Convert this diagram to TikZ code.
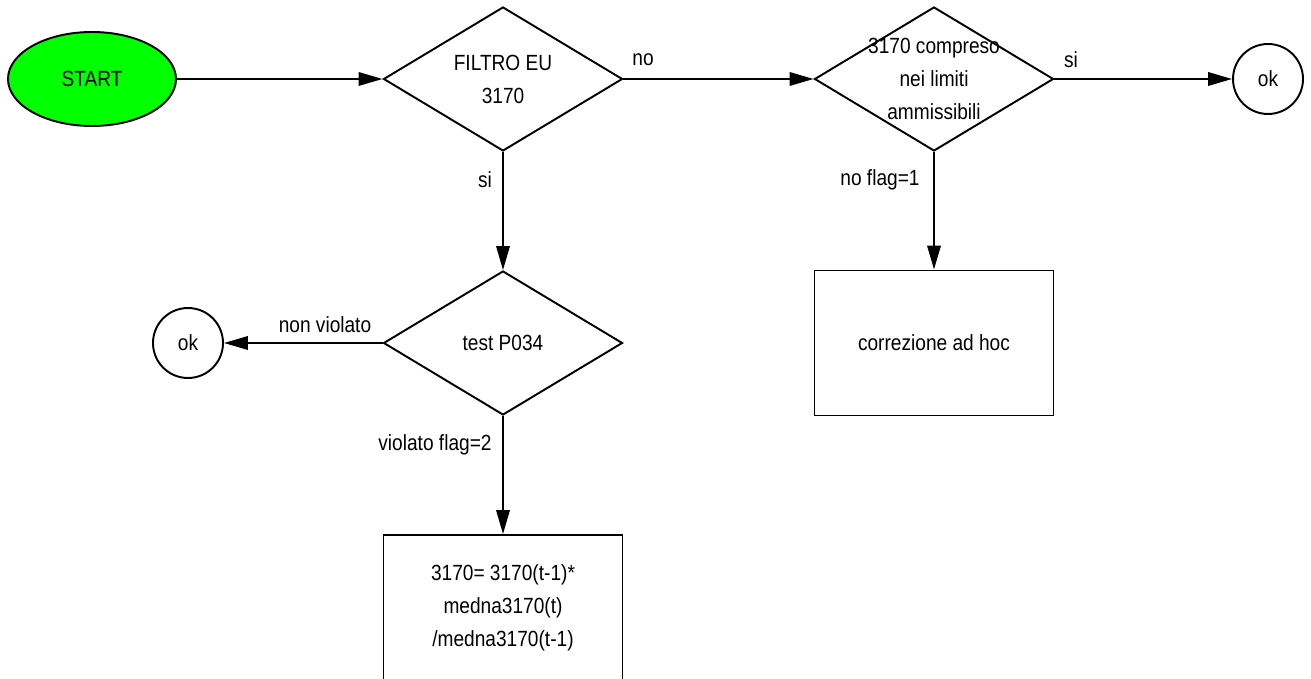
\documentclass[tikz,border=0pt]{standalone}
\usepackage{fontspec}
\setmainfont[FakeStretch=0.87]{Liberation Sans}
\usetikzlibrary{shapes.geometric,arrows.meta}
\definecolor{startgreen}{RGB}{0,255,0}
\begin{document}
\begin{tikzpicture}[
		line width=1.1pt,
		font=\fontsize{12.5}{18.8}\selectfont,
		freccia/.style={-{Triangle[length=0.48cm,width=0.27cm]}},
		decisione/.style={draw,diamond,inner sep=0pt,minimum width=4.78cm,minimum height=2.88cm},
		blocco/.style={draw,rectangle,align=center,minimum width=4.78cm,minimum height=2.9cm},
		fine/.style={draw,circle,inner sep=0pt,minimum size=1.4cm},
		etichetta/.style={inner sep=1pt,align=center}
	]
				\useasboundingbox (0,0) rectangle (26.22,-13.58);
				\clip (0,0) rectangle (26.22,-13.58);
				\coordinate (S) at (1.84,-1.58);
				\coordinate (D1) at (10.06,-1.58);
				\coordinate (D2) at (18.68,-1.58);
				\coordinate (K1) at (25.36,-1.58);
				\coordinate (D3) at (10.06,-6.86);
				\coordinate (K2) at (3.76,-6.86);
				\coordinate (C) at (18.68,-6.86);
				\coordinate (F) at (10.06,-12.16);
				% blocchi
				\node[draw,ellipse,fill=startgreen,inner sep=0pt,minimum width=3.36cm,minimum height=1.88cm] (start) at (S) {START};
				\node[decisione,label={[etichetta]center:FILTRO EU\\3170}] (filtro) at (D1) {};
				\node[decisione,label={[etichetta]center:3170 compreso\\nei limiti\\ammissibili}] (limiti) at (D2) {};
				\node[fine] (ok1) at (K1) {ok};
				\node[decisione,label={[etichetta]center:test P034}] (test) at (D3) {};
				\node[fine] (ok2) at (K2) {ok};
				\node[blocco] (corr) at (C) {correzione ad hoc};
				\node[blocco,minimum height=2.92cm] (formula) at (F) {3170= 3170(t-1)*\\medna3170(t)\\/medna3170(t-1)};
				% frecce
				\draw[freccia] (start) -- (filtro);
				\draw[freccia] (filtro) -- (limiti);
				\draw[freccia] (limiti) -- (ok1);
				\draw[freccia] (filtro) -- (test);
				\draw[freccia] (test) -- (ok2);
				\draw[freccia] (test) -- (formula);
				\draw[freccia] (limiti) -- (corr);
				% etichette
				\node[etichetta] (no1) at (12.86,-1.20) {no};
				\node[etichetta] (si1) at (21.42,-1.20) {si};
				\node[etichetta] (si2) at (9.70,-3.60) {si};
				\node[etichetta] (nonviol) at (6.50,-6.50) {non violato};
				\node[etichetta] (viol) at (8.70,-8.90) {violato flag=2};
				\node[etichetta] (noflag) at (17.60,-3.60) {no flag=1};
			\end{tikzpicture}
\end{document}
